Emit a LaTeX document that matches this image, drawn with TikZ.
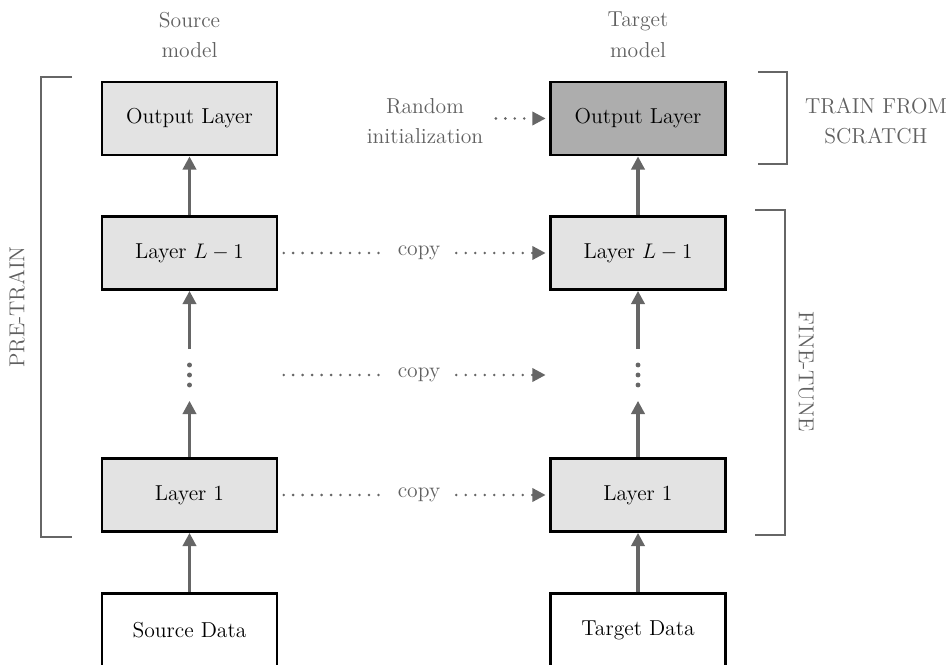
\documentclass[tikz,border=0pt]{standalone}
\usepackage{tikz}
\usepackage{amsmath}
\usetikzlibrary{arrows.meta, positioning}
\usepackage{xcolor}

\definecolor{notegray}{HTML}{606060}
\definecolor{linegray}{HTML}{666666}

\begin{document}
\begin{tikzpicture}[x=0.02cm, y=-0.02cm,
    every node/.style={font=\fontsize{12.3}{17.5}\selectfont},
    layer/.style={rectangle, draw=black, line width=1.6pt, fill=black!11,
      minimum width=3.5cm, minimum height=1.46cm},
    datanode/.style={layer, fill=white},
    dotsnode/.style={minimum width=0.3cm, minimum height=1.02cm, inner sep=0pt},
    uparrow/.style={draw=linegray, line width=1.8pt, -{Triangle[length=7.5pt, width=7.5pt]}},
    copyline/.style={draw=linegray, line width=1.6pt, line cap=round, dash pattern=on 0pt off 5.4pt},
    copyarrow/.style={copyline, shorten >=2pt, -{Triangle[length=7.5pt, width=7.5pt]}},
    note/.style={text=notegray, align=center},
    copynode/.style={note, inner xsep=9pt},
    bracket/.style={draw=linegray, line width=1.4pt}]

  \useasboundingbox (0,0) rectangle (950,665);

  % source model
  \node[note] (srclabel) at (189.5,35) {Source\\model};
  \node[layer] (srcout) at (189.5,118.5) {Output Layer};
  \node[layer] (srclast) at (189.5,253) {Layer $L-1$};
  \node[dotsnode] (srcdots) at (189.5,375) {};
  \node[layer] (srcfirst) at (189.5,495) {Layer 1};
  \node[datanode] (srcdata) at (189.5,630) {Source Data};

  % target model
  \node[note] (tgtlabel) at (638,35) {Target\\model};
  \node[layer, fill=black!32] (tgtout) at (638,118.5) {Output Layer};
  \node[layer] (tgtlast) at (638,253) {Layer $L-1$};
  \node[dotsnode] (tgtdots) at (638,375) {};
  \node[layer] (tgtfirst) at (638,495) {Layer 1};
  \node[datanode] (tgtdata) at (638,630) {Target Data};

  \foreach \d in {-10,0,10} {
    \fill[linegray] (srcdots.center) ++(0,\d) circle (1.4pt);
    \fill[linegray] (tgtdots.center) ++(0,\d) circle (1.4pt);
  }

  \draw[uparrow] (srclast) -- (srcout);
  \draw[uparrow] (srcdots) -- (srclast);
  \draw[uparrow] (srcfirst) -- (srcdots);
  \draw[uparrow] (srcdata) -- (srcfirst);

  \draw[uparrow] (tgtlast) -- (tgtout);
  \draw[uparrow] (tgtdots) -- (tgtlast);
  \draw[uparrow] (tgtfirst) -- (tgtdots);
  \draw[uparrow] (tgtdata) -- (tgtfirst);

  % copied weights
  \node[note, inner xsep=7pt] (randinit) at (425,121) {Random\\initialization};
  \draw[copyarrow] (randinit.east |- tgtout) -- (tgtout);

  \node[copynode] (copylast) at (419,253) {copy};
  \draw[copyline] ([xshift=3pt]srclast.east) -- (copylast);
  \draw[copyarrow] (copylast) -- (tgtlast);

  \node[copynode] (copymid) at (419,375) {copy};
  \coordinate (midstart) at (srcfirst.east |- copymid);
  \coordinate (midend) at (tgtfirst.west |- copymid);
  \draw[copyline] ([xshift=3pt]midstart) -- (copymid);
  \draw[copyarrow] (copymid) -- (midend);

  \node[copynode] (copyfirst) at (419,495) {copy};
  \draw[copyline] ([xshift=3pt]srcfirst.east) -- (copyfirst);
  \draw[copyarrow] (copyfirst) -- (tgtfirst);

  % brackets
  \draw[bracket] (72,77) -- (41,77) -- (41,537) -- (72,537);
  \node[note, rotate=90] (pretrain) at (17,307) {PRE-TRAIN};

  \draw[bracket] (758,72) -- (787,72) -- (787,164) -- (758,164);
  \node[note] (scratch) at (876,121) {TRAIN FROM\\SCRATCH};

  \draw[bracket] (755,210) -- (785,210) -- (785,535) -- (755,535);
  \node[note, rotate=-90] (finetune) at (806,372) {FINE-TUNE};
\end{tikzpicture}
\end{document}
